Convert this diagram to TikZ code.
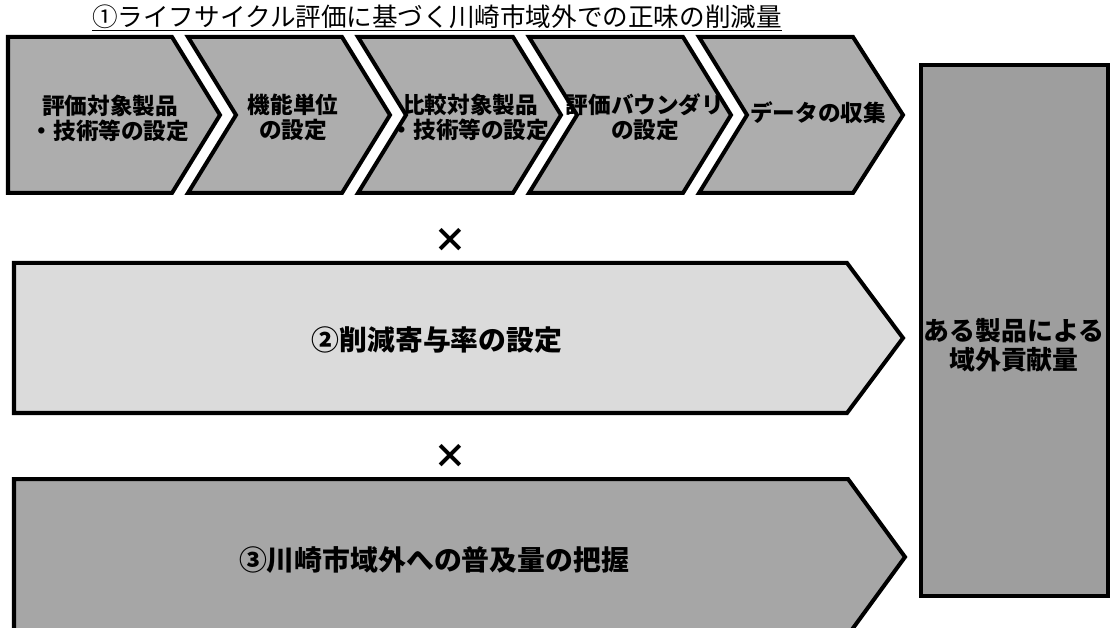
\documentclass[tikz,border=0pt]{standalone}
\usepackage{fontspec}
\setmainfont{Noto Sans CJK JP}
\usepackage{tikz}
\usetikzlibrary{positioning, calc}
\definecolor{stagegray}{gray}{0.68}
\definecolor{bandlight}{gray}{0.86}
\definecolor{banddark}{gray}{0.65}
\definecolor{totalgray}{gray}{0.62}
\tikzstyle{stage}=[%
      draw=black, line width = 1mm, fill=stagegray
]
\tikzstyle{band}=[%
      draw=black, line width = 1mm
]
\tikzstyle{total}=[%
      draw=black, line width = 1mm, fill=totalgray
]
\tikzstyle{st}=[%
      align=center, inner sep=0pt, font=\bfseries\fontsize{16.1}{17.8}\selectfont
]
\tikzstyle{bt}=[%
      align=center, inner sep=0pt, font=\bfseries\fontsize{19.8}{22}\selectfont
]
\tikzstyle{times}=[%
      inner sep=0pt, font=\bfseries\fontsize{24}{26}\selectfont
]

\begin{document}
\begin{tikzpicture}[x=0.025cm, y=-0.025cm]
    \useasboundingbox (0,0) rectangle (1116,628);

    % title
    \node[inner sep=0pt, font=\fontsize{18.2}{20}\selectfont] (title) at (437,18)
        {\underline{①ライフサイクル評価に基づく川崎市域外での正味の削減量}};

    % stages
    \draw[stage] (8,37) -- (172,37) -- (220,115) -- (172,193) -- (8,193) -- cycle;
    \draw[stage] (188,37) -- (342,37) -- (390,115) -- (342,193) -- (188,193) -- (236,115) -- cycle;
    \draw[stage] (358,37) -- (513,37) -- (561,115) -- (513,193) -- (358,193) -- (406,115) -- cycle;
    \draw[stage] (529,37) -- (683,37) -- (731,115) -- (683,193) -- (529,193) -- (577,115) -- cycle;
    \draw[stage] (699,37) -- (853,37) -- (903,115) -- (853,193) -- (699,193) -- (747,115) -- cycle;

    \node[st] (s1) at (110,118) {評価対象製品\\・技術等の設定};
    \node[st] (s2) at (293,117) {機能単位\\の設定};
    \node[st] (s3) at (470,117) {比較対象製品\\・技術等の設定};
    \node[st] (s4) at (645,117) {評価バウンダリ\\の設定};
    \node[st] (s5) at (818,113) {データの収集};

    \node[times] (x1) at (450,240) {×};

    % share
    \draw[band, fill=bandlight] (14,263) -- (847,263) -- (903,338) -- (847,413) -- (14,413) -- cycle;
    \node[bt] (share) at (437,340) {②削減寄与率の設定};

    \node[times] (x2) at (450,456) {×};

    % spread
    \draw[band, fill=banddark] (14,479) -- (848,479) -- (905,557) -- (848,635) -- (14,635) -- cycle;
    \node[bt] (spread) at (434,560) {③川崎市域外への普及量の把握};

    % result
    \draw[total] (921,65) rectangle (1108,596);
    \node[align=center, inner sep=0pt, font=\bfseries\fontsize{18.4}{21}\selectfont] (result) at (1014,345)
        {ある製品による\\域外貢献量};

\end{tikzpicture}
\end{document}
